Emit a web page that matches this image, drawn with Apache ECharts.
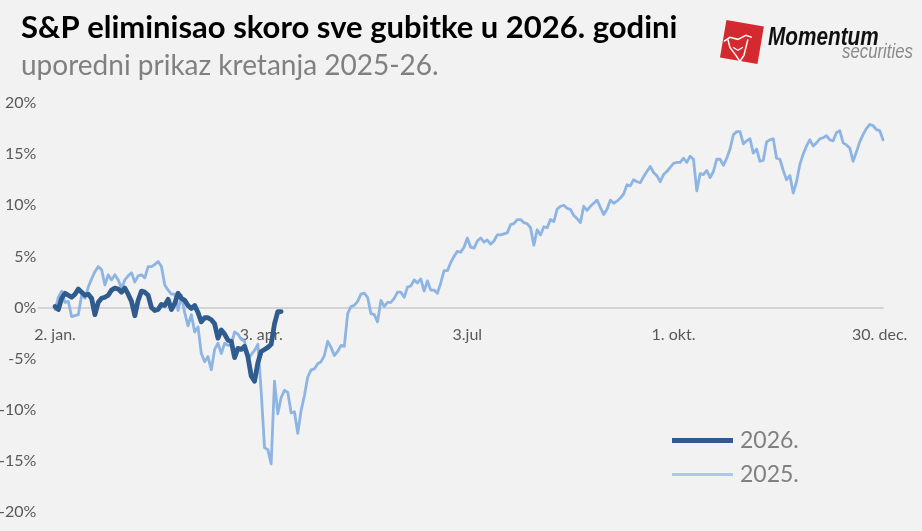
<!DOCTYPE html>
<html>
<head>
<meta charset="utf-8">
<script src="https://cdn.jsdelivr.net/npm/echarts@6/dist/echarts.min.js"></script>
<style>
  html, body { margin: 0; padding: 0; background: #f2f2f2; }
  #chart { width: 922px; height: 531px; }
</style>
</head>
<body>
<div id="chart"></div>
<script>
// ---- data ----
const titleText = 'S&P eliminisao skoro sve gubitke u 2026. godini';
const subtitleText = 'uporedni prikaz kretanja 2025-26.';
const seriesNames = ['2026.', '2025.'];

// x ticks: trading-day index -> label
const tickIndex = [0, 62, 124, 186, 248];
const tickLabels = ['2. jan.', '3. apr.', '3.jul', '1. okt.', '30. dec.'];

// y ticks (%)
const yMin = -20, yMax = 20, yStep = 5;

// YTD change (%) per trading day, 2025
const values2025 = [
  -0.2, 1.0, 1.6, 0.5, 0.6, -0.9, -0.8, -0.7, 1.2, 0.9,
  2.0, 2.8, 3.5, 4.0, 3.7, 2.2, 3.2, 2.7, 3.2, 2.7,
  1.9, 2.7, 3.1, 3.4, 2.5, 3.1, 3.2, 2.9, 4.0, 4.0,
  4.2, 4.5, 4.0, 2.2, 1.7, 1.3, 1.3, -0.3, 1.2, -0.5,
  -1.8, -0.7, -2.4, -1.9, -4.5, -5.3, -4.8, -6.1, -4.1, -3.5,
  -4.5, -3.5, -3.7, -3.6, -2.4, -2.6, -3.1, -3.3, -5.1, -4.6,
  -4.2, -3.6, -8.2, -13.7, -13.9, -15.3, -7.2, -10.4, -8.8, -8.1,
  -8.3, -10.3, -10.2, -12.3, -10.1, -8.6, -6.8, -6.1, -6.0, -5.5,
  -5.3, -4.7, -3.3, -3.9, -4.7, -4.3, -3.7, -3.8, -0.6, 0.1,
  0.2, 0.6, 1.3, 1.4, 1.0, -0.6, -0.7, -1.4, 0.7, 0.1,
  0.5, 0.5, 0.9, 1.5, 1.5, 1.0, 2.0, 2.1, 2.7, 2.4,
  2.8, 1.6, 2.6, 1.7, 1.7, 1.4, 2.4, 3.6, 3.6, 4.4,
  5.0, 5.5, 5.4, 5.9, 6.8, 5.9, 5.8, 6.5, 6.8, 6.4,
  6.6, 6.2, 6.5, 7.1, 7.1, 7.2, 7.3, 8.1, 8.2, 8.6,
  8.6, 8.3, 8.2, 7.8, 6.1, 7.6, 7.1, 7.9, 7.8, 8.6,
  8.4, 9.6, 9.9, 10.0, 9.7, 9.6, 9.0, 8.7, 8.3, 9.9,
  9.5, 9.9, 10.2, 10.5, 9.8, 9.1, 9.6, 10.5, 10.2, 10.4,
  10.7, 11.1, 12.0, 11.9, 12.5, 12.3, 12.2, 12.8, 13.3, 13.8,
  13.2, 12.9, 12.3, 13.0, 13.3, 13.7, 14.1, 14.2, 14.2, 14.6,
  14.2, 14.8, 14.5, 11.4, 13.1, 13.0, 13.4, 12.7, 13.3, 14.5,
  14.5, 13.9, 14.6, 15.5, 16.9, 17.2, 17.2, 16.0, 16.3, 16.5,
  15.1, 15.5, 14.3, 14.4, 16.2, 16.4, 16.5, 14.6, 14.5, 13.4,
  12.5, 12.9, 11.2, 12.3, 14.0, 15.0, 15.8, 16.4, 15.8, 16.1,
  16.5, 16.6, 16.8, 16.4, 16.3, 17.1, 17.3, 16.1, 15.9, 15.6,
  14.3, 15.2, 16.2, 16.9, 17.5, 17.9, 17.8, 17.4, 17.3, 16.4
];

// YTD change (%) per trading day, 2026 (so far)
const values2026 = [
  0.1, -0.2, 0.9, 1.4, 1.2, 1.0, 1.3, 1.8, 1.5, 1.2,
  1.3, 0.9, -0.7, 0.5, 0.9, 1.0, 1.2, 1.7, 1.9, 1.8,
  1.5, 1.9, 1.3, 0.6, -0.8, 0.7, 1.6, 1.5, 1.2, 0.0,
  -0.3, -0.2, 0.3, 0.2, 0.8, -0.2, 0.4, 1.4, 0.9, 0.7,
  0.2, -0.1, 0.2, -0.5, -1.4, -1.0, -1.0, -1.2, -1.6, -3.0,
  -2.2, -2.6, -3.2, -3.3, -4.9, -4.0, -4.1, -3.8, -4.8, -6.7,
  -7.2, -5.4, -4.3, -4.1, -3.9, -3.6, -1.6, -0.4, -0.4
];

// ---- chart ----
const chart = echarts.init(document.getElementById('chart'), null, { renderer: 'canvas' });
const toPairs = arr => arr.map((v, i) => [i, v]);
const FONT = 'Lato, "Noto Sans", sans-serif';

chart.setOption({
  animation: false,
  backgroundColor: '#f2f2f2',
  title: [
    { text: titleText, left: 16, top: 7,
      textStyle: { fontFamily: FONT, fontWeight: 'bold', fontSize: 31, color: '#000000' } },
    { text: subtitleText, left: 16, top: 47,
      textStyle: { fontFamily: FONT, fontWeight: 'normal', fontSize: 28, color: '#808080' } }
  ],
  legend: [
    { data: [{ name: seriesNames[0] }], orient: 'vertical', left: 667, top: 424,
      icon: 'rect', itemWidth: 61, itemHeight: 5, itemGap: 0,
      textStyle: { fontFamily: FONT, fontSize: 23, color: '#808080', padding: [0, 0, 0, 2] } },
    { data: [{ name: seriesNames[1], itemStyle: { color: '#aec6e7' } }], orient: 'vertical', left: 667, top: 458,
      icon: 'rect', itemWidth: 61, itemHeight: 3, itemGap: 0,
      textStyle: { fontFamily: FONT, fontSize: 23, color: '#808080', padding: [0, 0, 0, 2] } }
  ],
  grid: { left: 38.4, right: 39, top: 103, bottom: 19, containLabel: false, outerBoundsMode: 'none' },
  xAxis: {
    type: 'value', min: -5, max: values2025.length - 1,
    splitLine: { show: false },
    axisTick: { show: false },
    axisLine: { show: true, onZero: false, lineStyle: { color: '#d4d4d4', width: 2 } },
    axisLabel: {
      customValues: tickIndex,
      margin: 19,
      fontFamily: FONT, fontSize: 16, color: '#595959',
      formatter: v => { const k = tickIndex.indexOf(Math.round(v)); return k >= 0 ? tickLabels[k] : ''; }
    }
  },
  yAxis: {
    type: 'value', min: yMin, max: yMax, interval: yStep,
    splitLine: { show: false },
    axisLine: { show: false },
    axisTick: { show: false },
    axisLabel: { margin: 2, fontFamily: FONT, fontSize: 16, color: '#595959', formatter: v => v + '%' }
  },
  series: [
    { name: seriesNames[1], type: 'line', data: toPairs(values2025), showSymbol: false, symbol: 'none',
      z: 2, color: '#8db4e2',
      lineStyle: { color: '#8db4e2', width: 2.8, join: 'round', cap: 'round' } },
    { name: seriesNames[0], type: 'line', data: toPairs(values2026), showSymbol: false, symbol: 'none',
      z: 3, color: '#2f5b8e',
      lineStyle: { color: '#2f5b8e', width: 4.8, join: 'round', cap: 'round' } }
  ],
  graphic: [
    { type: 'group', left: 720, top: 20, children: [
      { type: 'rect', x: 22, y: 22, originX: 22, originY: 22, rotation: -0.17,
        shape: { x: -19, y: -19, width: 38, height: 38 }, style: { fill: '#d42a2f' } },
      { type: 'polyline', shape: { points: [[8, 18], [14, 14], [22, 16], [30, 12], [36, 14]] },
        style: { stroke: '#ffffff', lineWidth: 1.5, fill: null } },
      { type: 'polyline', shape: { points: [[12, 16], [14, 24], [20, 32], [24, 38], [28, 32], [30, 24], [32, 16]] },
        style: { stroke: '#ffffff', lineWidth: 1.5, fill: null } },
      { type: 'polyline', shape: { points: [[17, 24], [22, 27], [27, 24]] },
        style: { stroke: '#ffffff', lineWidth: 1.2, fill: null } }
    ]},
    { type: 'text', x: 768, y: 26, scaleX: 0.83,
      style: { text: 'Momentum', font: 'italic bold 25px "Liberation Sans", sans-serif', fill: '#111111' } },
    { type: 'text', x: 842, y: 42, scaleX: 0.84,
      style: { text: 'securities', font: 'italic 20px "Liberation Sans", sans-serif', fill: '#8a8a8a' } }
  ]
});

// place the x axis (line + labels) on the 0% level, via the library's own scale
const zeroY = chart.convertToPixel({ yAxisIndex: 0 }, 0);
const bottomY = chart.convertToPixel({ yAxisIndex: 0 }, yMin);
chart.setOption({ xAxis: { offset: -(bottomY - zeroY) } });
</script>
</body>
</html>
